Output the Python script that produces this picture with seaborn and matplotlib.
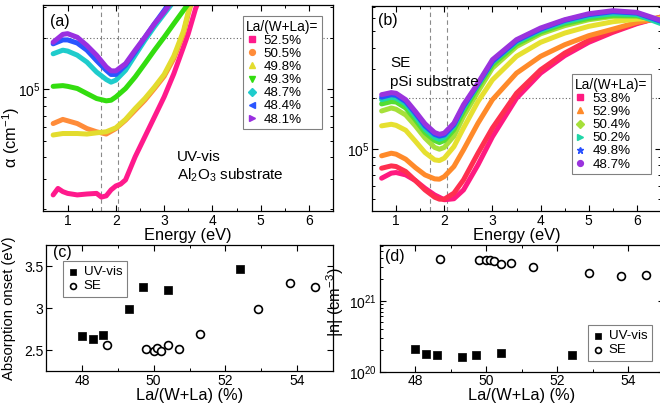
import numpy as np
import pandas as pd
import matplotlib
matplotlib.use("Agg")
import matplotlib.pyplot as plt
import seaborn as sns
from matplotlib.lines import Line2D
from matplotlib.ticker import LogLocator, NullFormatter, MultipleLocator, FuncFormatter

# ---------------- Panel (a): UV-vis, Al2O3 substrate ----------------
A_LABELS = ["52.5%", "50.5%", "49.8%", "49.3%", "48.7%", "48.4%", "48.1%"]
A_COLORS = ["#ff1a8c", "#ff8c3a", "#e3dc2e", "#33dd0f", "#1fcccc", "#2a55ff", "#9a2fe0"]
A_MARKERS = ["s", "o", "^", "v", "D", "<", ">"]

a_e_525 = [0.7, 0.8, 0.9, 1.0, 1.2, 1.4, 1.6, 1.7, 1.8, 1.9, 2.0, 2.1, 2.2, 2.4, 2.6, 2.8, 3.0, 3.2, 3.4, 3.5, 3.6, 3.65, 3.7]
a_v_525 = [2.42e4, 2.64e4, 2.53e4, 2.47e4, 2.42e4, 2.45e4, 2.47e4, 2.35e4, 2.39e4, 2.59e4, 2.73e4, 2.80e4, 2.96e4,
           4.04e4, 5.28e4, 6.90e4, 9.02e4, 1.23e5, 1.76e5, 2.11e5, 2.63e5, 2.94e5, 3.2e5]
a_e_505 = [0.7, 0.9, 1.0, 1.2, 1.4, 1.6, 1.8, 2.0, 2.2, 2.4, 2.6, 2.8, 3.0, 3.2, 3.4, 3.5, 3.55]
a_v_505 = [6.31e4, 6.67e4, 6.55e4, 6.31e4, 5.90e4, 5.65e4, 5.48e4, 5.90e4, 6.60e4, 7.55e4, 8.63e4, 1.01e5,
           1.19e5, 1.51e5, 2.11e5, 2.75e5, 3.08e5]
a_e_498 = [0.7, 0.9, 1.0, 1.2, 1.4, 1.6, 1.8, 2.0, 2.2, 2.4, 2.6, 2.8, 3.0, 3.2, 3.4, 3.5, 3.55]
a_v_498 = [5.41e4, 5.52e4, 5.52e4, 5.52e4, 5.48e4, 5.57e4, 5.65e4, 5.96e4, 6.67e4, 7.72e4, 8.83e4, 1.03e5,
           1.22e5, 1.56e5, 2.18e5, 2.82e5, 3.12e5]
a_e_493 = [0.7, 0.9, 1.0, 1.2, 1.4, 1.6, 1.8, 1.9, 2.0, 2.2, 2.4, 2.6, 2.8, 3.0, 3.2, 3.4, 3.5]
a_v_493 = [1.04e5, 1.05e5, 1.04e5, 1.01e5, 9.44e4, 8.83e4, 8.56e4, 8.63e4, 9.02e4, 1.01e5, 1.18e5, 1.41e5,
           1.69e5, 2.01e5, 2.41e5, 2.88e5, 3.15e5]
a_e_487 = [0.7, 0.9, 1.0, 1.2, 1.4, 1.6, 1.8, 1.9, 2.0, 2.2, 2.4, 2.6, 2.8, 3.0, 3.15]
a_v_487 = [1.61e5, 1.69e5, 1.67e5, 1.58e5, 1.44e5, 1.26e5, 1.14e5, 1.10e5, 1.13e5, 1.29e5, 1.58e5, 1.93e5,
           2.32e5, 2.75e5, 3.12e5]
a_e_484 = [0.7, 0.9, 1.0, 1.2, 1.4, 1.6, 1.8, 1.9, 2.0, 2.2, 2.4, 2.6, 2.8, 3.0, 3.1]
a_v_484 = [1.84e5, 1.94e5, 1.94e5, 1.86e5, 1.69e5, 1.47e5, 1.29e5, 1.22e5, 1.22e5, 1.38e5, 1.65e5, 2.0e5,
           2.41e5, 2.88e5, 3.15e5]
a_e_481 = [0.7, 0.9, 1.0, 1.2, 1.4, 1.6, 1.8, 1.9, 2.0, 2.2, 2.4, 2.6, 2.8, 3.0, 3.1]
a_v_481 = [1.88e5, 2.09e5, 2.11e5, 2.01e5, 1.80e5, 1.58e5, 1.35e5, 1.28e5, 1.28e5, 1.41e5, 1.69e5, 2.01e5,
           2.41e5, 2.82e5, 3.08e5]

# ---------------- Panel (b): SE, pSi substrate ----------------
B_E = [0.7, 0.9, 1.0, 1.2, 1.4, 1.6, 1.8, 1.9, 2.0, 2.2, 2.4, 2.7, 3.0, 3.5, 4.0, 4.5, 5.0, 5.5, 6.0, 6.5]
B_KEYS = ["53.8%", "54.6%", "52.9%", "51.3%", "50.4%", "50.7%", "50.2%", "49.8%", "48.7%"]
B_COLORS = ["#ff1a80", "#ff2f4f", "#ff8a2a", "#e6e030", "#a6e03a", "#55dd33", "#1fd6a8", "#2850ff", "#9a33dd"]
B_LEGEND = ["53.8%", "52.9%", "50.4%", "50.2%", "49.8%", "48.7%"]
B_LEG_MARKERS = ["s", "^", "D", ">", "*", "o"]

b_v_538 = [6.69e4, 7.17e4, 7.23e4, 7.0e4, 6.48e4, 5.83e4, 5.32e4, 5.15e4, 4.98e4, 5.05e4, 5.7e4, 8.03e4,
           1.18e5, 2.0e5, 2.82e5, 3.58e5, 4.30e5, 4.93e5, 5.55e5, 6.08e5]
b_v_546 = [7.67e4, 7.92e4, 7.85e4, 7.33e4, 6.48e4, 5.7e4, 5.16e4, 5.02e4, 5.02e4, 5.45e4, 6.54e4, 9.42e4,
           1.33e5, 2.14e5, 2.95e5, 3.71e5, 4.42e5, 4.99e5, 5.60e5, 6.08e5]
b_v_529 = [9.09e4, 9.42e4, 9.3e4, 8.68e4, 7.74e4, 7.0e4, 6.63e4, 6.6e4, 6.84e4, 7.85e4, 9.87e4, 1.42e5,
           1.96e5, 2.82e5, 3.55e5, 4.16e5, 4.71e5, 5.15e5, 5.65e5, 6.0e5]
b_v_513 = [1.37e5, 1.40e5, 1.38e5, 1.29e5, 1.11e5, 9.51e4, 8.6e4, 8.52e4, 8.8e4, 1.03e5, 1.33e5, 1.91e5,
           2.57e5, 3.55e5, 4.30e5, 4.88e5, 5.35e5, 5.70e5, 5.91e5, 6.0e5]
b_v_504 = [1.68e5, 1.75e5, 1.72e5, 1.59e5, 1.37e5, 1.16e5, 1.02e5, 9.95e4, 1.02e5, 1.19e5, 1.56e5, 2.19e5,
           3.02e5, 4.06e5, 4.83e5, 5.40e5, 5.86e5, 6.13e5, 6.13e5, 5.81e5]
b_v_507 = [1.85e5, 1.91e5, 1.90e5, 1.75e5, 1.49e5, 1.25e5, 1.12e5, 1.09e5, 1.12e5, 1.30e5, 1.67e5, 2.33e5,
           3.16e5, 4.20e5, 4.95e5, 5.55e5, 5.97e5, 6.22e5, 6.19e5, 5.73e5]
b_v_502 = [1.96e5, 2.03e5, 2.00e5, 1.85e5, 1.56e5, 1.31e5, 1.17e5, 1.14e5, 1.17e5, 1.36e5, 1.75e5, 2.40e5,
           3.27e5, 4.31e5, 5.06e5, 5.68e5, 6.13e5, 6.36e5, 6.28e5, 5.55e5]
b_v_498 = [2.03e5, 2.10e5, 2.08e5, 1.91e5, 1.63e5, 1.37e5, 1.22e5, 1.19e5, 1.21e5, 1.39e5, 1.79e5, 2.43e5,
           3.31e5, 4.39e5, 5.15e5, 5.81e5, 6.28e5, 6.54e5, 6.42e5, 5.73e5]
b_v_487 = [2.10e5, 2.16e5, 2.14e5, 1.96e5, 1.67e5, 1.41e5, 1.25e5, 1.22e5, 1.24e5, 1.42e5, 1.83e5, 2.46e5,
           3.39e5, 4.46e5, 5.23e5, 5.86e5, 6.36e5, 6.63e5, 6.48e5, 5.81e5]

# ---------------- Panels (c) and (d) ----------------
UV_X = [48.0, 48.3, 48.6, 49.3, 49.7, 50.4, 52.4]
UV_ONSET = [2.67, 2.63, 2.68, 2.99, 3.25, 3.22, 3.46]
UV_N = [2.09e20, 1.78e20, 1.72e20, 1.63e20, 1.72e20, 1.85e20, 1.70e20]
SE_X = [48.7, 49.8, 50.0, 50.1, 50.2, 50.4, 50.7, 51.3, 52.9, 53.8, 54.5]
SE_ONSET = [2.56, 2.51, 2.49, 2.52, 2.49, 2.56, 2.51, 2.69, 2.99, 3.30, 3.25]
SE_N = [3.87e21, 3.74e21, 3.74e21, 3.80e21, 3.59e21, 3.32e21, 3.45e21, 2.99e21, 2.43e21, 2.20e21, 2.27e21]

# ---------------- Style ----------------
sns.set_style("ticks")
plt.rcParams["font.family"] = ["Liberation Sans", "DejaVu Sans"]
plt.rcParams.update({
    "mathtext.fontset": "custom",
    "mathtext.rm": "Liberation Sans",
    "mathtext.it": "Liberation Sans:italic",
    "mathtext.bf": "Liberation Sans:bold",
    "mathtext.default": "regular",
    "axes.linewidth": 0.9,
    "axes.edgecolor": "black",
    "xtick.direction": "in",
    "ytick.direction": "in",
    "xtick.top": True,
    "ytick.right": True,
    "xtick.major.size": 4,
    "ytick.major.size": 4,
    "xtick.minor.size": 2.2,
    "ytick.minor.size": 2.2,
    "xtick.major.width": 0.8,
    "ytick.major.width": 0.8,
    "xtick.minor.width": 0.7,
    "ytick.minor.width": 0.7,
    "xtick.labelsize": 10,
    "ytick.labelsize": 10,
    "xtick.color": "black",
    "ytick.color": "black",
    "text.color": "black",
    "axes.labelcolor": "black",
})

W, H = 660, 409
fig = plt.figure(figsize=(W / 100, H / 100), dpi=100)


def add_ax(left, right, top, bottom):
    return fig.add_axes([left / W, 1 - bottom / H, (right - left) / W, (bottom - top) / H])


ax_a = add_ax(43.5, 333, 5, 211)
ax_b = add_ax(372, 661, 5.7, 211)
ax_c = add_ax(46, 333, 245, 371)
ax_d = add_ax(380, 664, 245, 371.7)

GUIDE = "#8a8a8a"


def spectra_axes(ax, ylim):
    ax.set_yscale("log")
    ax.set_xlim(0.5, 6.5)
    ax.set_ylim(*ylim)
    ax.xaxis.set_major_locator(MultipleLocator(1))
    ax.xaxis.set_minor_locator(MultipleLocator(0.5))
    ax.yaxis.set_major_locator(LogLocator(base=10, numticks=10))
    ax.yaxis.set_minor_locator(LogLocator(base=10, subs=np.arange(2, 10), numticks=20))
    ax.yaxis.set_minor_formatter(NullFormatter())
    for xv in (1.7, 2.05):
        ax.axvline(xv, color=GUIDE, lw=0.8, ls=(0, (4, 3)), zorder=0.5)
    ax.axhline(2e5, color="#666666", lw=0.8, ls=(0, (1, 2)), zorder=0.5)
    ax.set_xlabel("Energy (eV)", fontsize=11.8, labelpad=0)


LEG_KW = dict(fontsize=9.6, frameon=True, fancybox=False, edgecolor="#808080", framealpha=1,
              borderaxespad=0)

# ---- (a)
a_series = [(a_e_525, a_v_525), (a_e_505, a_v_505), (a_e_498, a_v_498), (a_e_493, a_v_493),
            (a_e_487, a_v_487), (a_e_484, a_v_484), (a_e_481, a_v_481)]
df_a = pd.concat([pd.DataFrame({"E": e, "alpha": v, "comp": lab})
                  for (e, v), lab in zip(a_series, A_LABELS)], ignore_index=True)
sns.lineplot(data=df_a, x="E", y="alpha", hue="comp", hue_order=A_LABELS,
             palette=dict(zip(A_LABELS, A_COLORS)), estimator=None, sort=False,
             linewidth=3.6, legend=False, ax=ax_a, zorder=2)
spectra_axes(ax_a, (1.95e4, 3.1e5))
ax_a.set_ylabel("α (cm$^{-1}$)", fontsize=11.8)
ax_a.yaxis.set_label_coords(-0.075, 0.36)
handles_a = [Line2D([], [], ls="none", marker=m, color=c, markersize=4.2, label=l)
             for l, c, m in zip(A_LABELS, A_COLORS, A_MARKERS)]
leg = ax_a.legend(handles=handles_a, title="La/(W+La)=", loc="upper left", bbox_to_anchor=(0.689, 0.945),
                  title_fontsize=9.8, handlelength=0.8, handletextpad=0.5,
                  labelspacing=0.06, borderpad=0.25, alignment="left", **LEG_KW)
leg.get_frame().set_linewidth(0.8)
ax_a.text(0.461, 0.262, "UV-vis", transform=ax_a.transAxes, fontsize=11, va="center", ha="left")
ax_a.text(0.461, 0.175, "Al$_2$O$_3$ substrate", transform=ax_a.transAxes, fontsize=11, va="center", ha="left")
ax_a.text(0.022, 0.92, "(a)", transform=ax_a.transAxes, fontsize=11.5, va="center", ha="left")

# ---- (b)
b_vals = [b_v_538, b_v_546, b_v_529, b_v_513, b_v_504, b_v_507, b_v_502, b_v_498, b_v_487]
df_b = pd.concat([pd.DataFrame({"E": B_E, "alpha": v, "comp": k})
                  for v, k in zip(b_vals, B_KEYS)], ignore_index=True)
sns.lineplot(data=df_b, x="E", y="alpha", hue="comp", hue_order=B_KEYS,
             palette=dict(zip(B_KEYS, B_COLORS)), estimator=None, sort=False,
             linewidth=3.6, legend=False, ax=ax_b, zorder=2)
spectra_axes(ax_b, (4.27e4, 7.1e5))
ax_b.set_ylabel("")
bcol = dict(zip(B_KEYS, B_COLORS))
handles_b = [Line2D([], [], ls="none", marker=m, color=bcol[l], markersize=4.6 if m == "*" else 4.2, label=l)
             for l, m in zip(B_LEGEND, B_LEG_MARKERS)]
leg = ax_b.legend(handles=handles_b, title="La/(W+La)=", loc="upper left", bbox_to_anchor=(0.691, 0.665),
                  title_fontsize=9.8, handlelength=0.8, handletextpad=0.5,
                  labelspacing=0.06, borderpad=0.25, alignment="left", **LEG_KW)
leg.get_frame().set_linewidth(0.8)
ax_b.text(0.062, 0.721, "SE", transform=ax_b.transAxes, fontsize=11, va="center", ha="left")
ax_b.text(0.062, 0.628, "pSi substrate", transform=ax_b.transAxes, fontsize=11, va="center", ha="left")
ax_b.text(0.021, 0.93, "(b)", transform=ax_b.transAxes, fontsize=11.5, va="center", ha="left")

# ---- (c)
df_uv = pd.DataFrame({"x": UV_X, "onset": UV_ONSET, "n": UV_N})
df_se = pd.DataFrame({"x": SE_X, "onset": SE_ONSET, "n": SE_N})
sns.scatterplot(data=df_uv, x="x", y="onset", marker="s", s=38, color="black", edgecolor="black",
                linewidth=0.5, ax=ax_c, label="UV-vis", zorder=3)
sns.scatterplot(data=df_se, x="x", y="onset", marker="o", s=32, facecolor="white", edgecolor="black",
                linewidth=1.2, ax=ax_c, label="SE", zorder=3)
ax_c.set_xlim(47, 55)
ax_c.set_ylim(2.25, 3.75)
ax_c.xaxis.set_major_locator(MultipleLocator(2))
ax_c.xaxis.set_minor_locator(MultipleLocator(1))
ax_c.yaxis.set_major_locator(MultipleLocator(0.5))
ax_c.yaxis.set_major_formatter(FuncFormatter(lambda v, p: f"{v:g}"))
ax_c.set_xlabel("La/(W+La) (%)", fontsize=11.8, labelpad=0)
ax_c.set_ylabel("Absorption onset (eV)", fontsize=10.6)
ax_c.yaxis.set_label_coords(-0.105, 0.5)
leg = ax_c.legend(loc="upper left", bbox_to_anchor=(0.059, 0.873), handlelength=0.8, handletextpad=0.4,
                  labelspacing=0.15, borderpad=0.35, markerscale=0.75, **LEG_KW)
leg.get_frame().set_linewidth(0.8)
ax_c.text(0.024, 0.944, "(c)", transform=ax_c.transAxes, fontsize=11.5, va="center", ha="left")

# ---- (d)
sns.scatterplot(data=df_uv, x="x", y="n", marker="s", s=38, color="black", edgecolor="black",
                linewidth=0.5, ax=ax_d, label="UV-vis", zorder=3)
sns.scatterplot(data=df_se, x="x", y="n", marker="o", s=32, facecolor="white", edgecolor="black",
                linewidth=1.2, ax=ax_d, label="SE", zorder=3)
ax_d.set_yscale("log")
ax_d.set_xlim(47, 55)
ax_d.set_ylim(1e20, 6.1e21)
ax_d.xaxis.set_major_locator(MultipleLocator(2))
ax_d.xaxis.set_minor_locator(MultipleLocator(1))
ax_d.yaxis.set_major_locator(LogLocator(base=10, numticks=10))
ax_d.yaxis.set_minor_locator(LogLocator(base=10, subs=np.arange(2, 10), numticks=20))
ax_d.yaxis.set_minor_formatter(NullFormatter())
ax_d.set_xlabel("La/(W+La) (%)", fontsize=11.8, labelpad=0)
ax_d.set_ylabel("|n| (cm$^{-3}$)", fontsize=11.8)
ax_d.yaxis.set_label_coords(-0.12, 0.55)
leg = ax_d.legend(loc="lower right", bbox_to_anchor=(0.958, 0.084), handlelength=0.8, handletextpad=0.4,
                  labelspacing=0.15, borderpad=0.35, markerscale=0.75, **LEG_KW)
leg.get_frame().set_linewidth(0.8)
ax_d.text(0.018, 0.91, "(d)", transform=ax_d.transAxes, fontsize=11.5, va="center", ha="left")

for ax in (ax_a, ax_b, ax_c, ax_d):
    ax.tick_params(axis="both", which="major", pad=2)

fig.savefig("out.png", dpi=100)
